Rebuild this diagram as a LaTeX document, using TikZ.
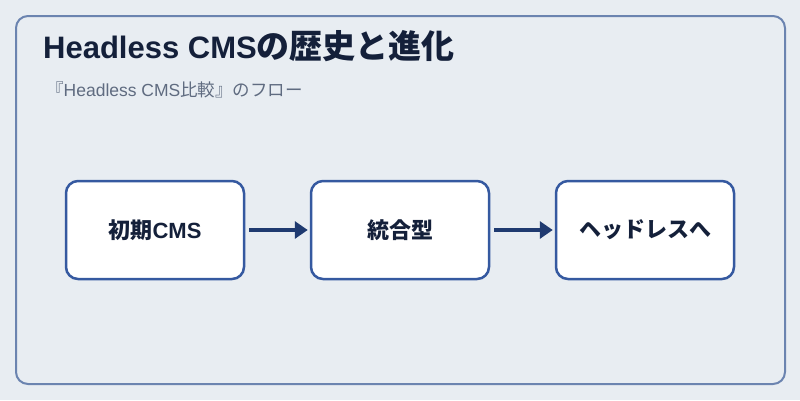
\documentclass[tikz,border=0pt]{standalone}
\usepackage{fontspec}
\setmainfont{Liberation Sans}
\newfontfamily\cjk{Noto Sans CJK JP}
\usetikzlibrary{arrows.meta}
\definecolor{bgc}{HTML}{E8EDF2}
\definecolor{framec}{HTML}{6B84B0}
\definecolor{boxc}{HTML}{3559A0}
\definecolor{arrc}{HTML}{1F3A70}
\definecolor{titlec}{HTML}{14203A}
\definecolor{subc}{HTML}{5F6B80}
\tikzset{
  stepbox/.style={draw=boxc, line width=2.5pt, fill=white, rounded corners=12pt,
    minimum width=178pt, minimum height=98pt, inner sep=0pt,
    font=\fontsize{22pt}{26pt}\selectfont\bfseries, text=titlec},
  flowarrow/.style={draw=arrc, line width=4pt, -{Triangle[length=13pt,width=17pt]}, shorten >=2pt, shorten <=4pt}
}
\begin{document}
\begin{tikzpicture}[x=1pt,y=-1pt]
\useasboundingbox (0,0) rectangle (800,400);
\fill[bgc] (0,0) rectangle (800,400);
\draw[framec, line width=2pt, rounded corners=12pt] (16,16) rectangle (785,384);
\node[anchor=base west, inner sep=0pt, text=titlec, font=\bfseries] (title) at (43,58)
  {\fontsize{31pt}{34pt}\selectfont Headless CMS\fontsize{33pt}{34pt}\selectfont\cjk の歴史と進化};
\node[anchor=base west, inner sep=0pt, text=subc, font=\fontsize{17.5pt}{21pt}\selectfont] (sub) at (46,96)
  {{\cjk 『}Headless CMS{\cjk 比較』のフロー}};
\node[stepbox] (a) at (155,230) {{\cjk 初期}CMS};
\node[stepbox] (b) at (400,230) {\cjk 統合型};
\node[stepbox] (c) at (645,230) {\cjk ヘッドレスへ};
\draw[flowarrow] (a) -- (b);
\draw[flowarrow] (b) -- (c);
\end{tikzpicture}
\end{document}
